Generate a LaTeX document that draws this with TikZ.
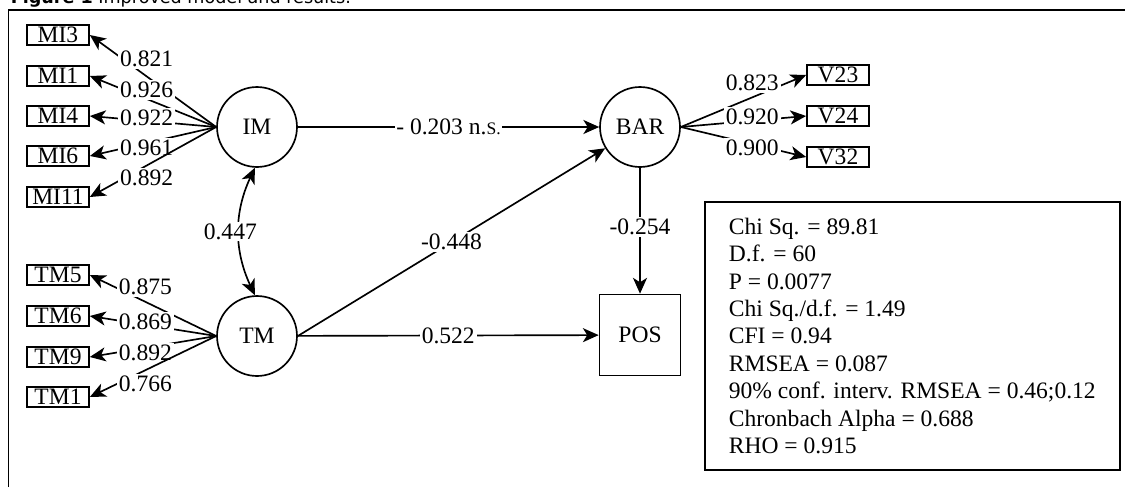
\documentclass[tikz,border=0pt]{standalone}
\usepackage{fontspec}
\setmainfont{Liberation Serif}
\newfontfamily\capfont{DejaVu Sans}
\usetikzlibrary{arrows.meta}

\begin{document}
\begin{tikzpicture}[
  x=0.02cm, y=-0.02cm,
  line width=0.95pt,
  font=\fontsize{13.4}{15.6}\selectfont,
  latent/.style={draw,circle,minimum size=1.6cm,inner sep=0pt},
  item/.style={draw,minimum width=1.24cm,minimum height=0.4cm,inner sep=0pt},
  lbl/.style={fill=white,inner sep=1pt},
  stats/.style={draw,align=left,inner xsep=0.42cm,minimum width=8.3cm,minimum height=5.36cm},
  >={Stealth[length=9pt,width=8pt,inset=2.5pt]},
]
  \useasboundingbox (0,0) rectangle (1125,487);
  % frame and cut caption
  \draw (8.5,487) -- (8.5,10) -- (1125,10);
  \node[anchor=base west,inner sep=0pt,font=\capfont\fontsize{10}{12}\selectfont] (cap) at (10,3.5)
    {\textbf{Figure 1} Improved model and results.};

  % latent variables
  \node[latent] (im) at (257,127) {IM};
  \node[latent] (tm) at (257,336) {TM};
  \node[latent] (bar) at (640,127) {BAR};
  \node[draw,minimum size=1.62cm] (pos) at (640,335) {POS};

  % indicators
  \foreach \nm/\yy in {MI3/35,MI1/76,MI4/116,MI6/156,MI11/197}
    \node[item] (\nm) at (58,\yy) {\nm};
  \foreach \nm/\yy in {TM5/275,TM6/316,TM9/357,TM1/397}
    \node[item] (\nm) at (58,\yy) {\nm};
  \foreach \nm/\yy in {V23/75,V24/116,V32/157}
    \node[item] (\nm) at (838,\yy) {\nm};

  % loadings
  \foreach \nm/\val/\sh in {MI3/0.821/10pt,MI1/0.926/5pt,MI4/0.922/2pt,MI6/0.961/-3pt,MI11/0.892/-7pt}
    \draw[->] (im.west) -- node[lbl,pos=.55,yshift=\sh] {\val} (\nm.east);
  \foreach \nm/\val/\sh in {TM5/0.875/8.5pt,TM6/0.869/1.5pt,TM9/0.892/-3pt,TM1/0.766/-8pt}
    \draw[->] (tm.west) -- node[lbl,pos=.56,yshift=\sh] {\val} (\nm.east);
  \foreach \nm/\val/\sh in {V23/0.823/8pt,V24/0.920/2pt,V32/0.900/-2pt}
    \draw[->] (bar.east) -- node[lbl,pos=.57,yshift=\sh] {\val} (\nm.west);

  % structural paths
  \draw[<->] (im.-93) to[out=-115,in=115] node[lbl,xshift=-5pt] {0.447} (tm.93);
  \draw[->] (im) -- node[lbl] {- 0.203 n.{\fontsize{10}{12}\selectfont S.}} (bar);
  \draw[->] (tm.east) -- node[lbl] {-0.448} (bar);
  \draw[->] (tm) -- node[lbl] {0.522} (pos);
  \draw[->] (bar) -- node[lbl,pos=.47] {-0.254} (pos);

  % fit indices
  \node[stats,anchor=north west] (fit) at (704,201)
    {Chi Sq. = 89.81\\ D.f. = 60\\ P = 0.0077\\ Chi Sq./d.f. = 1.49\\ CFI = 0.94\\
     RMSEA = 0.087\\ 90\% conf. interv. RMSEA = 0.46;0.12\\ Chronbach Alpha = 0.688\\
     RHO = 0.915};
\end{tikzpicture}
\end{document}
